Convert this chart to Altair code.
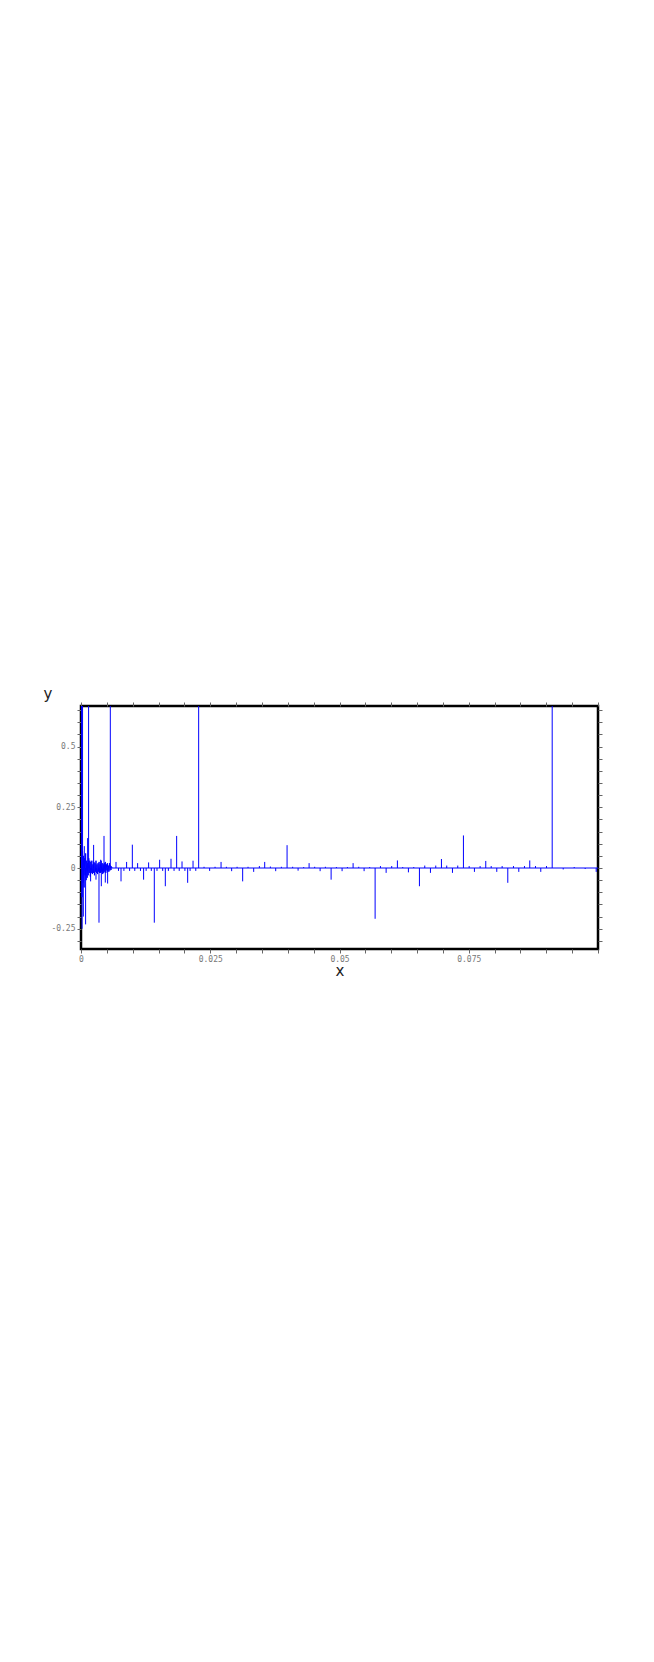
import altair as alt
import pandas as pd

# Dense oscillation near the origin (x from 0 to 0.006, step 0.0001)
noise_y = [0.0, 0.09, -0.12, 0.07, -0.06, 0.05, -0.08, 0.04, -0.03, 0.06,
           -0.05, 0.03, -0.04, 0.02, -0.03, 0.04, -0.02, 0.03, -0.035, 0.025,
           -0.02, 0.03, -0.025, 0.015, -0.02, 0.025, -0.03, 0.02, -0.015, 0.03,
           -0.02, 0.015, -0.025, 0.02, -0.015, 0.025, -0.02, 0.015, -0.02, 0.03,
           -0.015, 0.02, -0.025, 0.015, -0.02, 0.02, -0.015, 0.025, -0.02, 0.015,
           -0.01, 0.02, -0.015, 0.01, -0.015, 0.02, -0.01, 0.01, -0.008, 0.006, 0.0]
noise_x = [round(i * 0.0001, 4) for i in range(len(noise_y))]

# Spikes (position, height); heights of 0.9 run past the top of the plot
spike_x = [0.0001, 0.0002, 0.0003, 0.00045, 0.00064, 0.00089, 0.00128, 0.00147,
           0.00186, 0.00244, 0.0029, 0.00348, 0.0038, 0.00393, 0.00445, 0.0047,
           0.00515, 0.00567, 0.00677, 0.00725, 0.00774, 0.0083, 0.00882, 0.0094,
           0.00993, 0.0104, 0.01095, 0.0115, 0.01211, 0.0126, 0.01308, 0.0136,
           0.01418, 0.0147, 0.01521, 0.0158, 0.01631, 0.0169, 0.01741, 0.0180,
           0.0185, 0.0190, 0.01954, 0.0201, 0.02063, 0.0211, 0.02167, 0.0222,
           0.02276, 0.0238, 0.02488,
           0.02593, 0.02709, 0.02812, 0.02914, 0.03019, 0.03127, 0.03231, 0.0334,
           0.0345, 0.03553, 0.03663, 0.03766, 0.03876, 0.03986, 0.04094, 0.04199,
           0.04307, 0.04412, 0.0452, 0.04625, 0.04727, 0.04838,
           0.0494, 0.0505, 0.05153, 0.05263, 0.05372, 0.05476, 0.05584, 0.05689,
           0.05792, 0.05902, 0.0601, 0.0612, 0.06223, 0.06333, 0.06436, 0.06546,
           0.06649, 0.06759, 0.06862, 0.06972, 0.07074, 0.07185, 0.07287,
           0.07397, 0.07508, 0.0761, 0.0772, 0.07829, 0.07934, 0.08042, 0.08146,
           0.08255, 0.08365, 0.08468, 0.08578, 0.0868, 0.08791, 0.08893, 0.09004,
           0.09114, 0.09327, 0.0954, 0.09752, 0.09965]
spike_y = [0.9, -0.25, 0.9, -0.2, 0.09, -0.232, 0.123, 0.9,
           -0.055, 0.095, -0.048, -0.225, 0.034, -0.075, 0.132, -0.06,
           -0.064, 0.9, 0.025, -0.012, -0.055, -0.012, 0.025, -0.012,
           0.096, -0.012, 0.02, -0.012, -0.048, -0.012, 0.023, -0.012,
           -0.225, -0.012, 0.034, -0.012, -0.075, -0.012, 0.038, -0.012,
           0.132, -0.012, 0.027, -0.012, -0.061, -0.012, 0.03, -0.012,
           0.9, 0.005, -0.012,
           0.005, 0.025, 0.005, -0.013, 0.005, -0.055, 0.005, -0.016,
           0.008, 0.025, 0.006, -0.013, 0.005, 0.094, 0.005, -0.011,
           0.004, 0.02, 0.005, -0.013, 0.005, -0.048,
           0.004, -0.013, 0.004, 0.02, 0.005, -0.013, 0.004, -0.209,
           0.008, -0.02, 0.008, 0.031, 0.004, -0.018, 0.004, -0.075,
           0.01, -0.02, 0.01, 0.037, 0.01, -0.02, 0.01,
           0.134, 0.008, -0.016, 0.008, 0.029, 0.008, -0.016, 0.008,
           -0.061, 0.008, -0.016, 0.008, 0.031, 0.008, -0.016, 0.008,
           0.9, -0.006, 0.004, -0.004, -0.016]

x_ticks = [round(i * 0.005, 3) for i in range(21)]
y_ticks = [round(-0.3 + i * 0.05, 2) for i in range(20)]

line_df = pd.DataFrame({"x": noise_x + [0.1], "y": noise_y + [0.0]})
spike_df = pd.DataFrame({"x": spike_x, "y0": [0.0] * len(spike_x), "y": spike_y})

FONT = "DejaVu Sans Mono"
xs = alt.Scale(domain=[0, 0.1], nice=False, zero=False)
ys = alt.Scale(domain=[-1 / 3, 2 / 3], nice=False, zero=False)

common_axis = dict(grid=False, domain=False, tickColor="#666666", tickSize=4,
                   labelColor="#777777", labelFont=FONT, labelFontSize=8,
                   labelFlush=False)

x_bottom = alt.Axis(orient="bottom", values=x_ticks, title="x",
                    labelExpr="(abs(round(datum.value*1000) % 25) == 0 && datum.value < 0.09) ? format(datum.value, '.3~f') : ''",
                    labelPadding=2, titleFont="DejaVu Sans", titleFontSize=15,
                    titleFontWeight="normal", titleColor="#222222", titlePadding=0,
                    **common_axis)
y_left = alt.Axis(orient="left", values=y_ticks, title="y", titleAngle=0,
                  titleAlign="left", titleBaseline="bottom", titleX=-38, titleY=-5,
                  labelExpr="(abs(round(datum.value*100) % 25) == 0 && datum.value > -0.3 && datum.value < 0.6) ? replace(format(datum.value, '.2~f'), '\u2212', '-') : ''",
                  labelPadding=2, titleFont="DejaVu Sans", titleFontSize=15,
                  titleFontWeight="normal", titleColor="#222222",
                  **common_axis)
x_top = alt.Axis(orient="top", values=x_ticks, labels=False, title=None,
                 grid=False, domain=False, tickColor="#666666", tickSize=4)
y_right = alt.Axis(orient="right", values=y_ticks, labels=False, title=None,
                   grid=False, domain=False, tickColor="#666666", tickSize=4)

base_line = alt.Chart(line_df).mark_line(color="#0000ff", strokeWidth=1, clip=True).encode(
    x=alt.X("x:Q", scale=xs, axis=x_bottom),
    y=alt.Y("y:Q", scale=ys, axis=y_left),
)

spikes = alt.Chart(spike_df).mark_rule(color="#0000ff", strokeWidth=1, clip=True).encode(
    x=alt.X("x:Q", scale=xs, axis=x_top),
    y=alt.Y("y0:Q", scale=ys, axis=y_right),
    y2="y:Q",
)

chart = alt.layer(base_line, spikes).resolve_axis(x="independent", y="independent").properties(
    width=517, height=243,
    autosize=alt.AutoSizeParams(type="none"),
    padding={"left": 73, "top": 698, "right": 40, "bottom": 60},
).configure_view(stroke="black", strokeWidth=2.5)

chart.save("out.html", embed_options={"renderer": "svg", "actions": False})
